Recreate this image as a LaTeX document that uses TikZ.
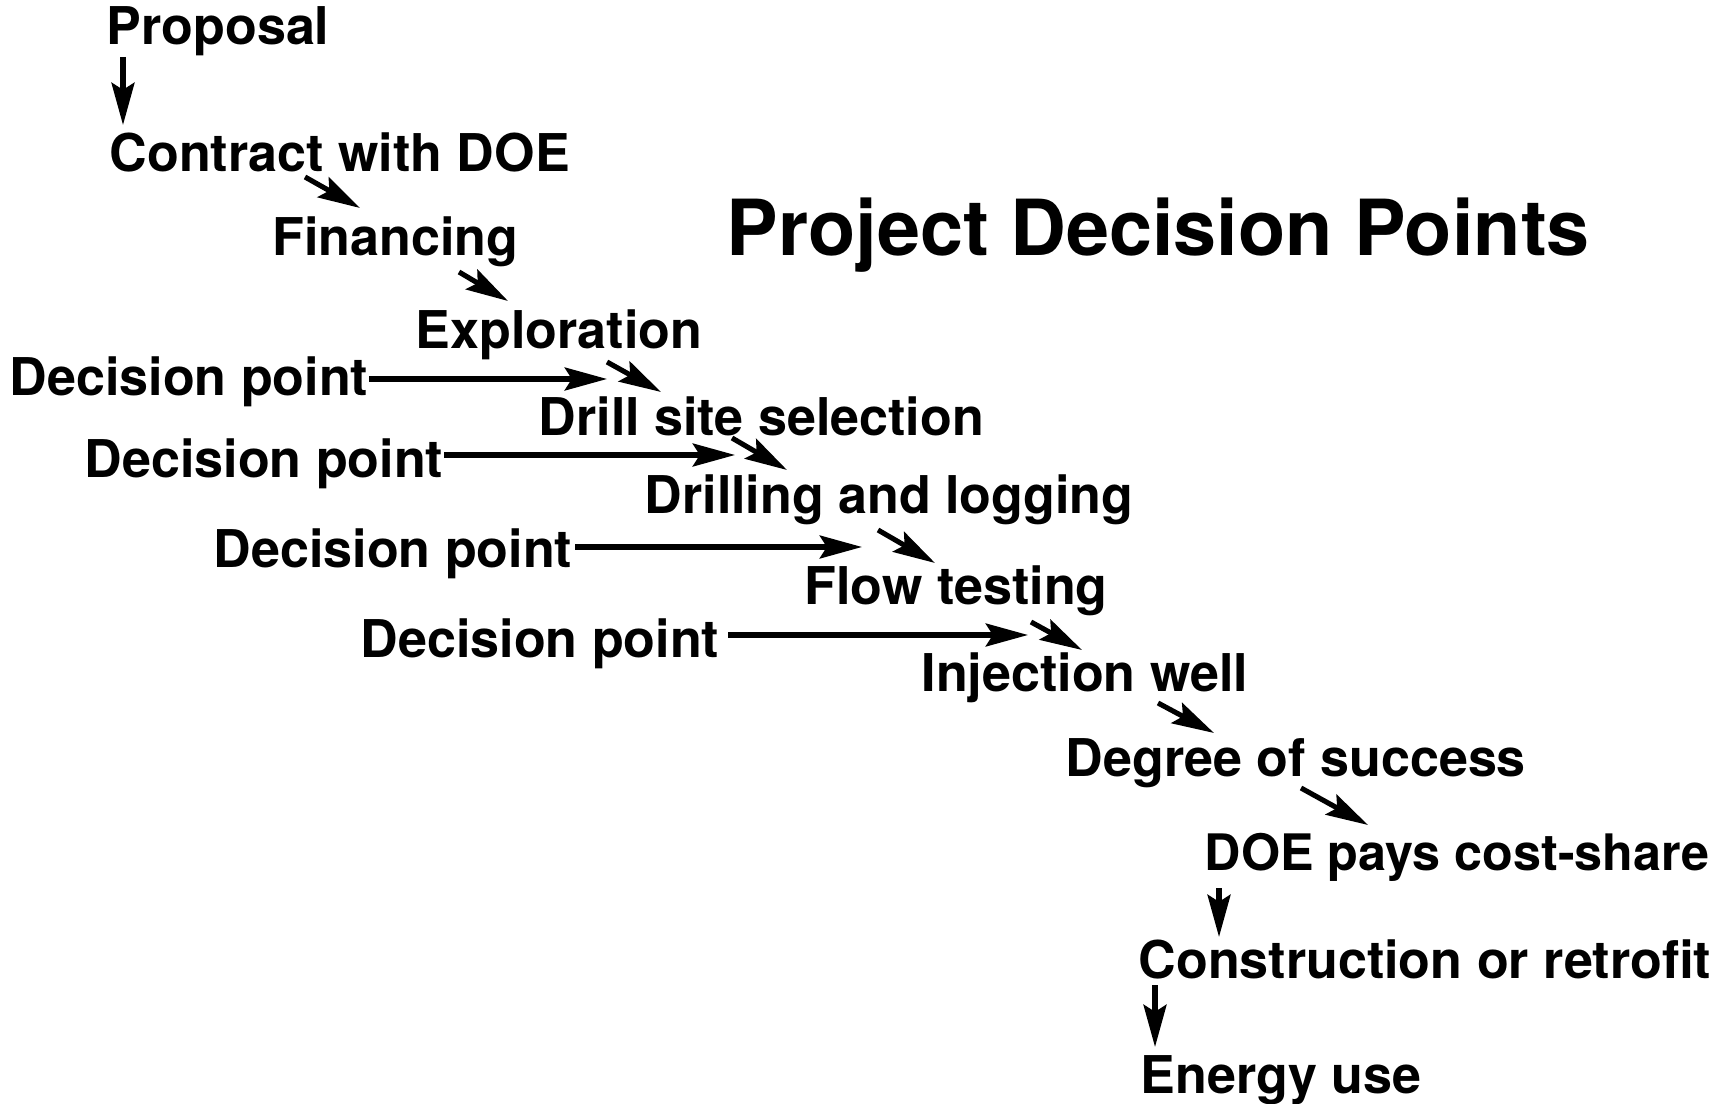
\documentclass[tikz,border=0pt]{standalone}
\usepackage{fontspec}
\setmainfont{TeX Gyre Heros}
\usetikzlibrary{arrows.meta}
\begin{document}
\begin{tikzpicture}[x=0.01cm,y=-0.01cm,
  lbl/.style={anchor=base west,inner sep=0pt,font=\fontsize{14.8}{17}\selectfont\bfseries},
  ttl/.style={anchor=base west,inner sep=0pt,font=\fontsize{22}{26}\selectfont\bfseries},
  arr/.style={line width=1.45pt,-{Stealth[length=12pt,width=6.5pt,inset=2pt]}}]
\useasboundingbox (0,0) rectangle (1713,1104);
% text nodes
\node[lbl] (prop) at (106,45) {Proposal};
\node[lbl] (contract) at (109,172) {Contract with DOE};
\node[lbl] (fin) at (272,256) {Financing};
\node[lbl] (expl) at (415,349) {Exploration};
\node[lbl] (d1) at (9,396) {Decision point};
\node[lbl] (drill) at (538,436) {Drill site selection};
\node[lbl] (d2) at (84,478) {Decision point};
\node[lbl] (dlog) at (644,514) {Drilling and logging};
\node[lbl] (d3) at (213,568) {Decision point};
\node[lbl] (flow) at (804,605) {Flow testing};
\node[lbl] (d4) at (360,658) {Decision point};
\node[lbl] (inj) at (921,692) {Injection well};
\node[lbl] (deg) at (1065,776) {Degree of success};
\node[lbl,font=\fontsize{14.3}{17}\selectfont\bfseries] (doe) at (1204,870) {DOE pays cost-share};
\node[lbl] (cons) at (1138,978) {Construction or retrofit};
\node[lbl] (energy) at (1140,1093) {Energy use};
\node[ttl] (title) at (726,256) {Project Decision Points};
% connector end points
\coordinate (c1a) at (123,57);   \coordinate (c1b) at (123,125);
\coordinate (c2a) at (305,177);  \coordinate (c2b) at (360,208);
\coordinate (c3a) at (459,272);  \coordinate (c3b) at (508,301);
\coordinate (c4a) at (607,362);  \coordinate (c4b) at (661,392);
\coordinate (c5a) at (732,438);  \coordinate (c5b) at (787,470);
\coordinate (c6a) at (878,530);  \coordinate (c6b) at (935,563);
\coordinate (c7a) at (1031,622); \coordinate (c7b) at (1082,650);
\coordinate (c8a) at (1158,703); \coordinate (c8b) at (1214,733);
\coordinate (c9a) at (1301,788); \coordinate (c9b) at (1368,825);
\coordinate (c10a) at (1219,888); \coordinate (c10b) at (1219,937);
\coordinate (c11a) at (1155,985); \coordinate (c11b) at (1155,1047);
\coordinate (e1) at (607,379);
\coordinate (e2) at (735,455);
\coordinate (e3) at (862,547);
\coordinate (e4) at (1028,635);
% chain arrows
\draw[arr] (c1a) -- (c1b);
\draw[arr] (c2a) -- (c2b);
\draw[arr] (c3a) -- (c3b);
\draw[arr] (c4a) -- (c4b);
\draw[arr] (c5a) -- (c5b);
\draw[arr] (c6a) -- (c6b);
\draw[arr] (c7a) -- (c7b);
\draw[arr] (c8a) -- (c8b);
\draw[arr] (c9a) -- (c9b);
\draw[arr] (c10a) -- (c10b);
\draw[arr] (c11a) -- (c11b);
% decision point arrows
\draw[arr] (d1.east |- e1) -- (e1);
\draw[arr] (d2.east |- e2) -- (e2);
\draw[arr] (d3.east |- e3) ++(2,0) -- (e3);
\draw[arr] (d4.east |- e4) ++(8,0) -- (e4);
\end{tikzpicture}
\end{document}
